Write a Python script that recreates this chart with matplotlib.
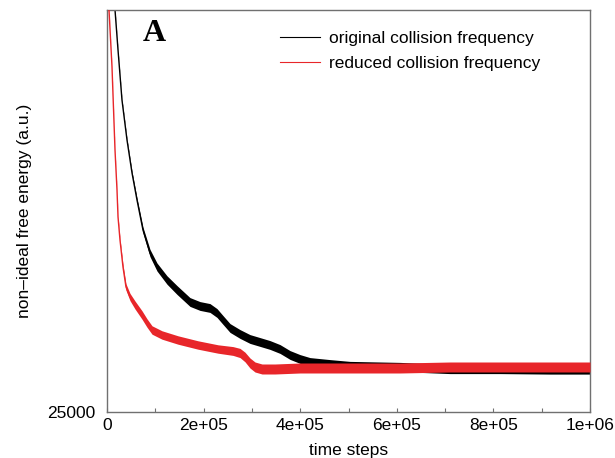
import matplotlib
matplotlib.use("Agg")
import matplotlib.pyplot as plt
import numpy as np

# ---- data (arbitrary units) ----
orig_t = [13500, 16600, 22800, 31000, 41400, 51800, 62100, 74500, 89000, 103500,
          124200, 144900, 171800, 192500, 213200, 227700, 240200, 254700, 275400,
          296000, 316800, 337500, 358200, 378900, 399600, 420300, 441000, 461700,
          503100, 606600, 710100, 813700, 917200, 1000000]
orig_e = [29220, 29020, 28620, 28120, 27720, 27390, 27120, 26820, 26590, 26450,
          26320, 26220, 26100, 26060, 26040, 25990, 25920, 25840, 25780,
          25730, 25700, 25670, 25630, 25570, 25530, 25500, 25490, 25480,
          25460, 25450, 25430, 25430, 25425, 25425]
orig_spread = [8, 8, 8, 10, 12, 16, 20, 28, 36, 40,
               42, 44, 44, 44, 44, 44, 44, 44, 44,
               44, 44, 44, 44, 44, 44, 44, 44, 44,
               46, 46, 46, 46, 46, 46]

red_t = [2070, 4140, 10350, 16560, 20700, 22800, 26900, 33100, 39300, 47600,
         58000, 72500, 82800, 93200, 113900, 147000, 188400, 229800, 260900,
         275400, 285700, 296000, 306400, 320900, 347800, 399600, 503100, 606600,
         710100, 813700, 917200, 1000000]
red_e = [29220, 29020, 28450, 27620, 27220, 26950, 26720, 26450, 26250, 26150,
         26070, 25970, 25890, 25820, 25770, 25720, 25670, 25630, 25610,
         25590, 25550, 25490, 25450, 25430, 25430, 25440, 25440, 25440,
         25450, 25450, 25450, 25450]
red_spread = [6, 6, 8, 10, 12, 14, 18, 26, 32, 36,
              40, 42, 42, 42, 42, 42, 42, 42, 44,
              46, 48, 50, 50, 50, 50, 50, 50, 50,
              50, 50, 50, 50]

xtick_values = [0, 200000, 400000, 600000, 800000, 1000000]
xtick_labels = ["0", "2e+05", "4e+05", "6e+05", "8e+05", "1e+06"]
xminor_values = [100000, 300000, 500000, 700000, 900000]
ytick_values = [25000]
ytick_labels = ["25000"]
y_limits = (25000, 29020)
x_limits = (0, 1000000)

series_names = ["original collision frequency", "reduced collision frequency"]
panel_label = "A"

# ---- drawing ----
plt.rcParams['font.family'] = ['Liberation Sans', 'DejaVu Sans']
FS = 12.5
BLACK = "#000000"
RED = "#e8262a"
GRAY = "#707070"

fig = plt.figure(figsize=(6.15, 4.58), dpi=100)
ax = fig.add_axes([107/615, 46/458, 483/615, 402/458])

ot = np.array(orig_t); oe = np.array(orig_e); os_ = np.array(orig_spread)
rt = np.array(red_t); re = np.array(red_e); rs = np.array(red_spread)

ax.fill_between(ot, oe - os_, oe + os_, color=BLACK, lw=0, zorder=2)
ax.plot(ot, oe, color=BLACK, lw=1.0, zorder=2, label=series_names[0])
ax.fill_between(rt, re - rs, re + rs, color=RED, lw=0, zorder=3)
ax.plot(rt, re, color=RED, lw=1.0, zorder=3, label=series_names[1])

ax.set_xlim(*x_limits)
ax.set_ylim(*y_limits)
ax.set_xticks(xtick_values)
ax.set_xticklabels(xtick_labels)
ax.set_xticks(xminor_values, minor=True)
ax.set_yticks(ytick_values)
ax.set_yticklabels(ytick_labels)

ax.tick_params(axis='x', which='both', direction='in', length=3, width=0.8,
               colors=GRAY, labelcolor='black', labelsize=FS, pad=4)
ax.tick_params(axis='y', which='both', length=0, labelsize=FS, pad=8.5)
for sp in ax.spines.values():
    sp.set_color(GRAY)
    sp.set_linewidth(1.0)

ax.set_xlabel("time steps", fontsize=FS, labelpad=7.5)
ax.set_ylabel("non\u2013ideal free energy (a.u.)", fontsize=FS, labelpad=11)

ax.text(0.073, 0.977, panel_label, transform=ax.transAxes, fontsize=23,
        fontweight='bold', family=['Liberation Serif', 'DejaVu Serif'],
        ha='left', va='top')

leg = ax.legend(loc='upper left', bbox_to_anchor=(280/615, 1 - 31/458),
                bbox_transform=fig.transFigure, frameon=False,
                fontsize=FS, handlelength=2.3, handletextpad=0.55,
                labelspacing=0.58, borderpad=0, borderaxespad=0)
for h in leg.get_lines():
    h.set_linewidth(0.8)

fig.savefig("out.png", dpi=100)
